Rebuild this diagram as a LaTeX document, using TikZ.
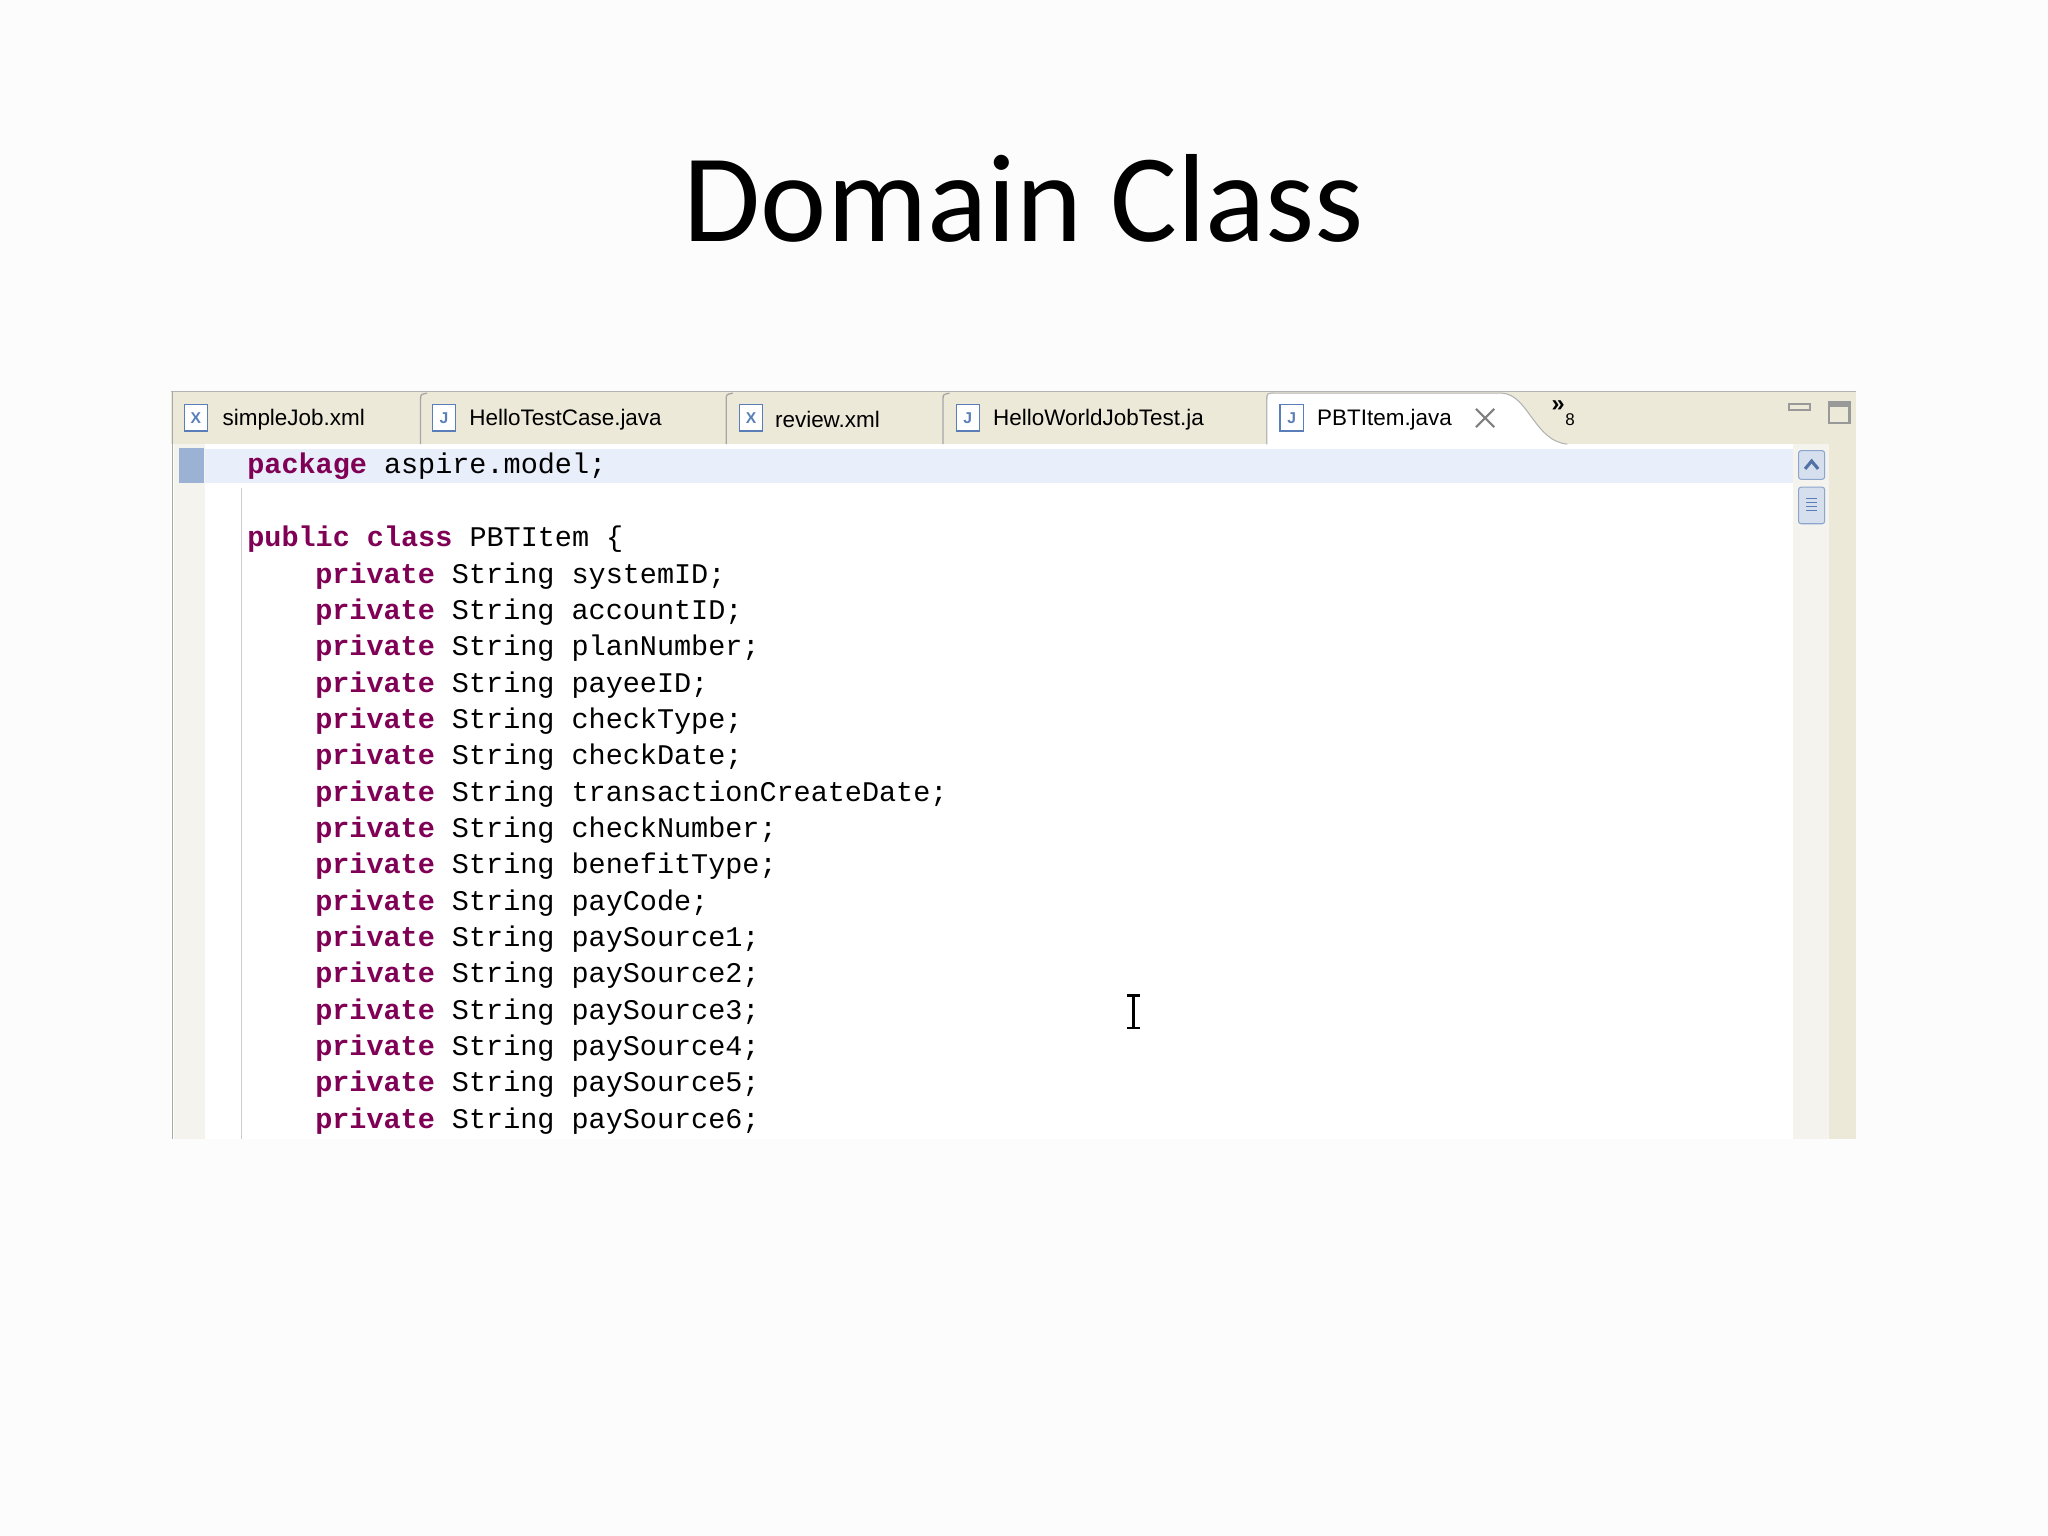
\documentclass[tikz,border=0pt]{standalone}
\usepackage{fontspec}
\setmainfont{Carlito}
\newfontfamily\codefont{Liberation Mono}
\newfontfamily\tabfont{Liberation Sans}
\definecolor{kw}{HTML}{7F0055}
\definecolor{beige}{HTML}{ECE9D8}
\definecolor{gut}{HTML}{F4F3EE}
\definecolor{hl}{HTML}{E8EEFA}
\definecolor{iconb}{HTML}{5A7FB8}
\tikzset{
  code/.style={anchor=west,inner sep=0pt,font=\codefont\fontsize{10.9}{12}\selectfont},
  tab/.style={anchor=west,inner sep=0pt,font=\tabfont\fontsize{8.6}{10}\selectfont},
  icon/.style={draw=iconb,fill=white,minimum width=9pt,minimum height=10pt,inner sep=0pt,font=\tabfont\fontsize{6}{7}\selectfont\bfseries,text=iconb},
  sep/.style={draw=gray!70,line width=0.5pt}
}
\begin{document}
\begin{tikzpicture}[x=0.5pt,y=-0.5pt]
\useasboundingbox[fill=white!98!gray] (0,0) rectangle (1568,1176);
\node[font=\fontsize{48}{56}\selectfont] (title) at (784,152) {Domain Class};
% panel
\fill[beige] (131,300) rectangle (1421,340);
\draw[gray!60] (131,300) -- (1421,300);
\fill[white] (131,340) rectangle (1421,872);
\fill[gut] (133,340) rectangle (157,872);
\draw[gray!70] (132,300) -- (132,872);
\draw[gray!40] (185,374) -- (185,872);
\fill[hl] (157,344) rectangle (1373,370);
\fill[gut] (1373,340) rectangle (1400,872);
\fill[beige] (1400,340) rectangle (1421,872);
\fill[iconb!60] (137,343) rectangle (156,370);
% scrollbar buttons
\node[draw=iconb!70,fill=iconb!25,rounded corners=1pt,minimum width=10pt,minimum height=11pt,inner sep=0pt] (up) at (1387,356) {};
\draw[iconb!90!black,line width=1.2pt] (1382,359) -- (1387,353) -- (1392,359);
\node[draw=iconb!70,fill=iconb!25,rounded corners=1pt,minimum width=10pt,minimum height=14pt,inner sep=0pt] (thumb) at (1387,387) {};
\foreach \yy in {382,385,388,391} \draw[iconb] (1383,\yy) -- (1391,\yy);
% tabs
\foreach \xx in {322,556,722,970} \draw[sep] (\xx,340) -- (\xx,306) .. controls (\xx,302) .. (\xx+5,301);
\fill[white] (970,340) -- (970,306) .. controls (970,301) .. (976,301) -- (1150,301) .. controls (1170,302) and (1175,338) .. (1200,340) -- cycle;
\draw[gray!60] (970,340) -- (970,306) .. controls (970,301) .. (976,301) -- (1150,301) .. controls (1170,302) and (1175,338) .. (1200,340);
\node[icon] (i1) at (150,320) {X};
\node[icon] (i2) at (340,320) {J};
\node[icon] (i3) at (575,320) {X};
\node[icon] (i4) at (741,320) {J};
\node[icon] (i5) at (989,320) {J};
\node[tab] (t1) at (170,321) {simpleJob.xml};
\node[tab] (t2) at (359,321) {HelloTestCase.java};
\node[tab] (t3) at (593,321) {review.xml};
\node[tab] (t4) at (760,321) {HelloWorldJobTest.ja};
\node[tab] (t5) at (1008,321) {PBTItem.java};
\draw[gray,line width=0.8pt] (1130,313) -- (1144,327) (1130,327) -- (1144,313);
\node[font=\tabfont\fontsize{9}{10}\selectfont\bfseries,inner sep=0pt] (more) at (1193,311) {»};
\node[font=\tabfont\fontsize{6.5}{7}\selectfont,inner sep=0pt] (num) at (1202,321) {8};
\draw[gray!80,line width=0.8pt] (1370,309) rectangle (1386,314);
\draw[gray!80,line width=0.8pt] (1400,308) rectangle (1416,324);
\draw[gray!80,line width=1.5pt] (1400,310) -- (1416,310);
% code
\node[code] (l0) at (189,357) {\textcolor{kw}{\bfseries package} aspire.model;};
\node[code] (l1) at (189,413) {\textcolor{kw}{\bfseries public class} PBTItem \{};
\foreach [count=\i] \f in {systemID,accountID,planNumber,payeeID,checkType,checkDate,transactionCreateDate,checkNumber,benefitType,payCode,paySource1,paySource2,paySource3,paySource4,paySource5,paySource6}
  \node[code] (f\i) at (241,441+27.8*\i-27.8) {\textcolor{kw}{\bfseries private} String \f;};
% cursor
\draw[line width=1pt] (868,762) -- (868,787) (863,762) -- (873,762) (863,787) -- (873,787);
\end{tikzpicture}
\end{document}
